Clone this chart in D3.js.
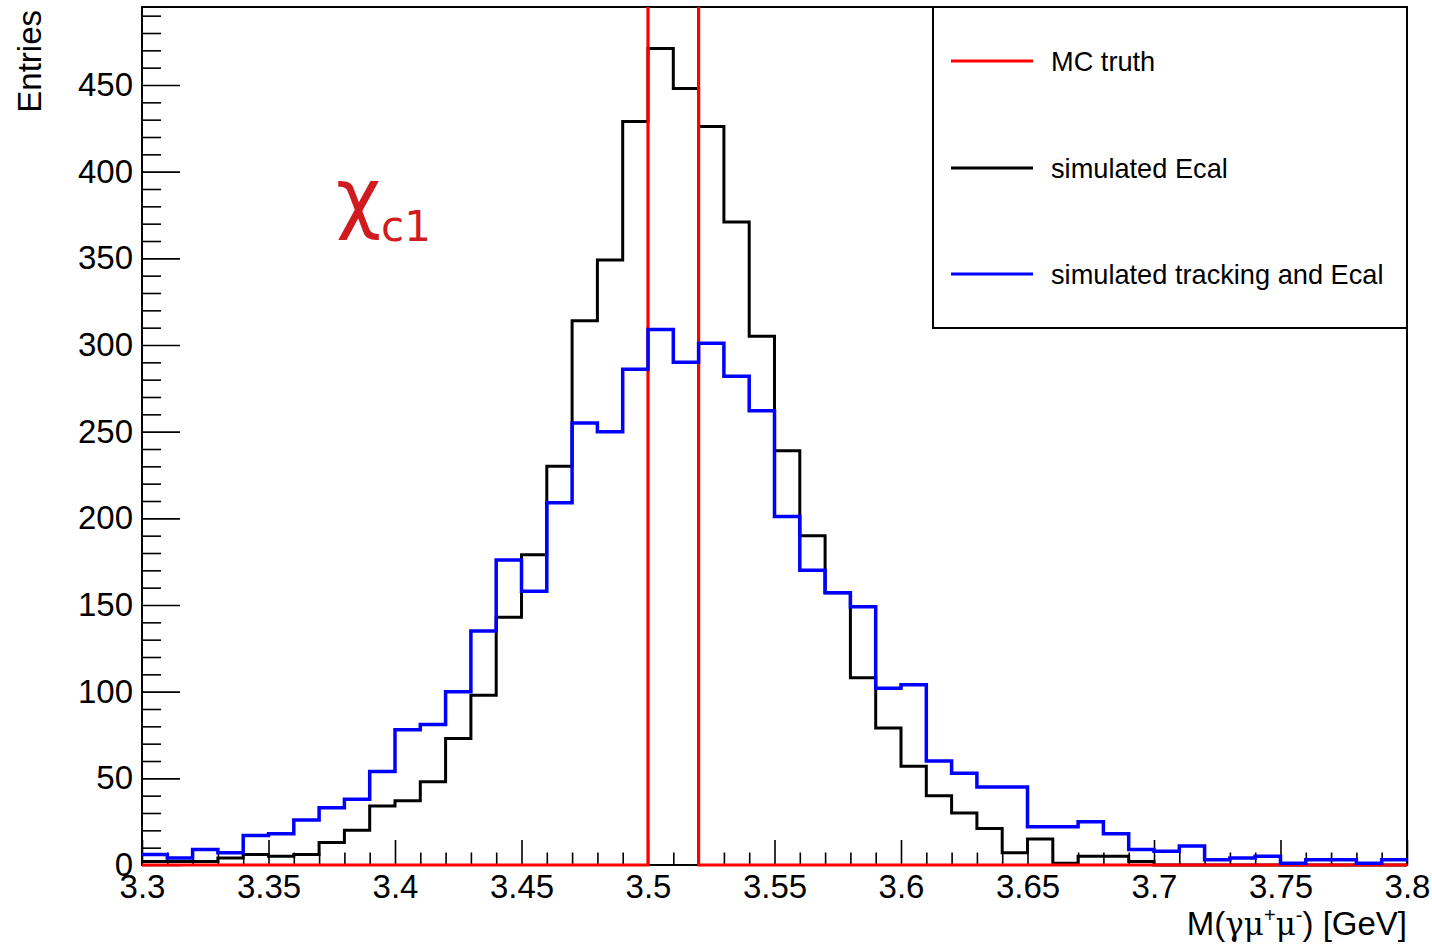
<!DOCTYPE html>
<html><head><meta charset="utf-8">
<script src="https://cdn.jsdelivr.net/npm/d3@7"></script>
<style>body{margin:0;background:#fff} svg{display:block}</style>
</head><body>
<svg id="c" width="1432" height="945"></svg>
<script>
// ---- data ----
const xRange = [3.3, 3.8];
const nBins = 50;
const yMax = 495;
const xTickValues = [3.3, 3.35, 3.4, 3.45, 3.5, 3.55, 3.6, 3.65, 3.7, 3.75, 3.8];
const xTickLabels = ["3.3","3.35","3.4","3.45","3.5","3.55","3.6","3.65","3.7","3.75","3.8"];
const yTickValues = [0, 50, 100, 150, 200, 250, 300, 350, 400, 450];
const seriesNames = ["MC truth", "simulated Ecal", "simulated tracking and Ecal"];
const seriesColors = ["#ff0000", "#000000", "#0000ff"];
const mcTruth = [0,0,0,0,0,0,0,0,0,0, 0,0,0,0,0,0,0,0,0,0, 2480,2520,0,0,0,0,0,0,0,0, 0,0,0,0,0,0,0,0,0,0, 0,0,0,0,0,0,0,0,0,0];
const simEcal = [2,2,2,4,6,5,6,13,20,34, 37,48,73,98,143,179,230,314,349,429, 471,448,426,371,305,239,190,157,108,79, 57,40,30,21,7,15,1,5,5,2, 0,0,0,0,0,0,0,0,0,0];
const simTrackEcal = [6,4,9,7,17,18,26,33,38,54, 78,81,100,135,176,158,209,255,250,286, 309,290,301,282,262,201,170,157,149,102, 104,60,53,45,45,22,22,25,18,9, 8,11,3,4,5,1,3,3,1,3];

// ---- layout ----
const L = 142, R = 1407, T = 7, B = 865;
const svg = d3.select("#c");
const x = d3.scaleLinear().domain(xRange).range([L, R]);
const y = d3.scaleLinear().domain([0, yMax]).range([B, T]);
const binW = (xRange[1] - xRange[0]) / nBins;
const edges = d3.range(nBins + 1).map(i => xRange[0] + i * binW);

svg.append("defs").append("clipPath").attr("id", "clip")
  .append("rect").attr("x", L).attr("y", T).attr("width", R - L).attr("height", B - T + 6);

// frame
svg.append("rect").attr("x", L).attr("y", T).attr("width", R - L).attr("height", B - T)
  .attr("fill", "none").attr("stroke", "#000").attr("stroke-width", 2);

const font = "'Liberation Sans', Arial, Helvetica, sans-serif";

// y axis
const yMinor = d3.range(0, yMax + 1, 10).filter(v => v % 50 !== 0);
const gy = svg.append("g").attr("transform", `translate(${L},0)`);
gy.call(d3.axisLeft(y).tickValues(yTickValues).tickSize(-38).tickPadding(9));
gy.append("g").call(d3.axisLeft(y).tickValues(yMinor).tickSize(-19).tickFormat(""));
// x axis
const xMinor = edges.filter((v, i) => i % 5 !== 0);
const gx = svg.append("g").attr("transform", `translate(0,${B})`);
gx.call(d3.axisBottom(x).tickValues(xTickValues).tickSize(-25).tickPadding(10)
  .tickFormat((d, i) => xTickLabels[i]));
gx.append("g").call(d3.axisBottom(x).tickValues(xMinor).tickSize(-12.5).tickFormat(""));

svg.selectAll(".domain").remove();
svg.selectAll(".tick line").attr("stroke", "#000").attr("stroke-width", 1.6);
svg.selectAll(".tick text").attr("font-family", font).attr("font-size", 33).attr("fill", "#000");

// histograms
const step = d3.line().x(d => x(d[0])).y(d => y(d[1])).curve(d3.curveStepAfter);
function pts(vals) {
  const p = vals.map((v, i) => [edges[i], v]);
  p.push([edges[nBins], vals[nBins - 1]]);
  return p;
}
const hg = svg.append("g").attr("clip-path", "url(#clip)");
const order = [[simEcal, 1, 3], [mcTruth, 0, 3.2], [simTrackEcal, 2, 3.5]];
order.forEach(([vals, ci, w]) => {
  hg.append("path").attr("d", step(pts(vals))).attr("fill", "none")
    .attr("stroke", seriesColors[ci]).attr("stroke-width", w).attr("stroke-linejoin", "miter");
});

// axis titles
svg.append("text").attr("transform", "translate(41,10) rotate(-90)")
  .attr("text-anchor", "end").attr("font-family", font).attr("font-size", 33).text("Entries");

const xt = svg.append("text").attr("x", R).attr("y", 935).attr("text-anchor", "end")
  .attr("font-family", font).attr("font-size", 33);
const greek = "'DejaVu Serif', 'Liberation Serif', serif";
xt.append("tspan").text("M(");
xt.append("tspan").attr("font-family", greek).attr("font-size", 31).text("γμ");
xt.append("tspan").attr("font-size", 20).attr("dy", -13).text("+");
xt.append("tspan").attr("font-family", greek).attr("font-size", 31).attr("dy", 13).text("μ");
xt.append("tspan").attr("font-size", 20).attr("dy", -13).text("-");
xt.append("tspan").attr("dy", 13).text(") [GeV]");

// chi_c1 label
const chi = svg.append("text").attr("x", 336).attr("y", 224)
  .attr("font-family", "'DejaVu Sans', sans-serif").attr("fill", "#d01c20");
chi.append("tspan").attr("font-size", 78).text("χ");
chi.append("tspan").attr("font-size", 42).attr("dy", 17).text("c1");

// legend
const lg = svg.append("g");
lg.append("rect").attr("x", 933).attr("y", T).attr("width", R - 933).attr("height", 328 - T)
  .attr("fill", "#fff").attr("stroke", "#000").attr("stroke-width", 2);
const ly = [61, 168, 274];
seriesNames.forEach((n, i) => {
  lg.append("line").attr("x1", 951).attr("x2", 1033).attr("y1", ly[i]).attr("y2", ly[i])
    .attr("stroke", seriesColors[i]).attr("stroke-width", 3);
  lg.append("text").attr("x", 1051).attr("y", ly[i]).attr("dy", "0.35em")
    .attr("font-family", font).attr("font-size", 27.2).text(n);
});
</script>
</body></html>
